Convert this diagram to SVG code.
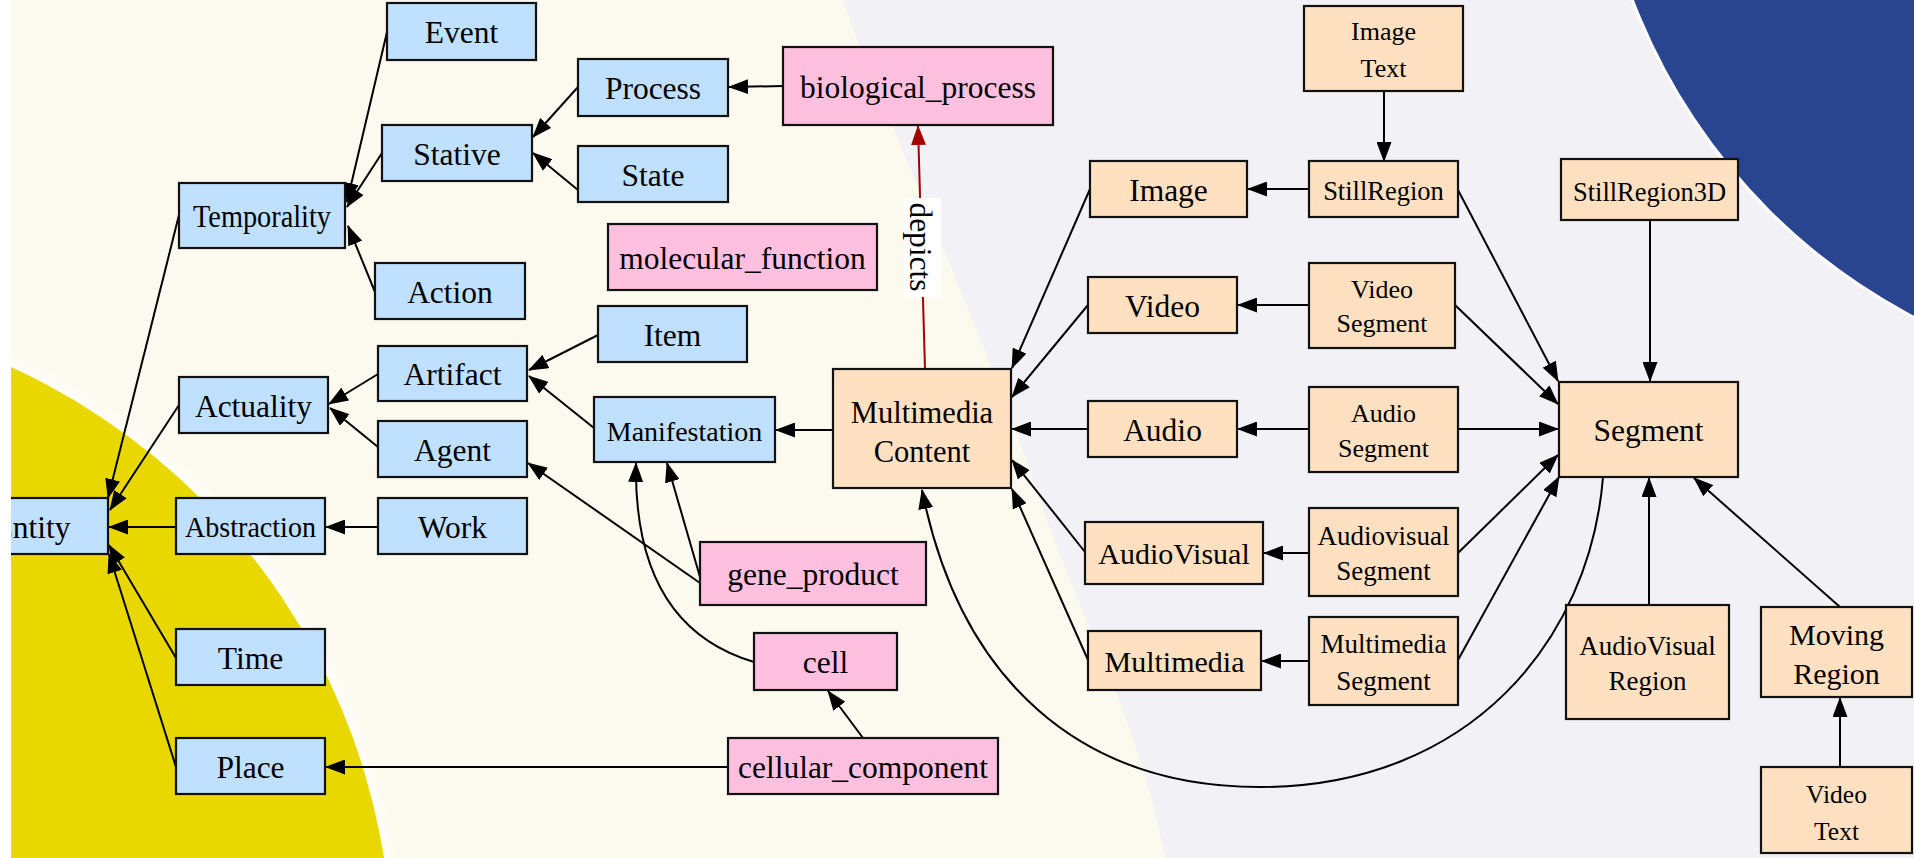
<svg xmlns="http://www.w3.org/2000/svg" width="1914" height="858" viewBox="0 0 1914 858">
<style>
.nb{fill:#C0E0FF;stroke:#111;stroke-width:2.2}
.np{fill:#FFC0E0;stroke:#111;stroke-width:2.2}
.no{fill:#FFE0C0;stroke:#111;stroke-width:2.2}
text{font-family:"Liberation Serif","Times New Roman","DejaVu Serif",serif;fill:#000;text-anchor:middle}
.t{font-size:31.5px}
.s{font-size:26.5px}
.e{fill:none;stroke:#000;stroke-width:2}
.r{fill:none;stroke:#A50000;stroke-width:2}
</style>
<defs>
<marker id="ah" viewBox="0 0 20 15" refX="19" refY="7.5" markerWidth="20" markerHeight="15" markerUnits="userSpaceOnUse" orient="auto"><path d="M0,0 L20,7.5 L0,15 z" fill="#000"/></marker>
<marker id="ahr" viewBox="0 0 20 15" refX="19" refY="7.5" markerWidth="20" markerHeight="15" markerUnits="userSpaceOnUse" orient="auto"><path d="M0,0 L20,7.5 L0,15 z" fill="#A50000"/></marker>
<clipPath id="cp"><rect x="11" y="0" width="1903" height="858"/></clipPath>
<filter id="bl" x="-10%" y="-10%" width="120%" height="120%"><feGaussianBlur stdDeviation="4"/></filter>
</defs>
<rect x="0" y="0" width="1914" height="858" fill="#FFFFFF"/>
<g id="background" clip-path="url(#cp)">
<rect x="0" y="0" width="1914" height="858" fill="#FCFAEE"/>
<path d="M842,0 L1914,0 L1914,858 L1165,858 C1140,720 1080,620 1040,500 C990,350 900,150 842,0 Z" fill="#F1F1F6"/>
<circle cx="-260" cy="960" r="660" fill="#FFFFFF" opacity="0.7" filter="url(#bl)"/>
<circle cx="-260" cy="960" r="652" fill="#E9D700"/>
<circle cx="2191" cy="-212" r="599" fill="#FFFFFF" opacity="0.9"/>
<circle cx="2191" cy="-212" r="596" fill="#29458F"/>
</g>
<g clip-path="url(#cp)">
<g id="connectors">
<line class="e" x1="387" y1="32" x2="347" y2="202" marker-end="url(#ah)"/>
<line class="e" x1="382" y1="153" x2="347" y2="207" marker-end="url(#ah)"/>
<line class="e" x1="375" y1="292" x2="348" y2="226" marker-end="url(#ah)"/>
<line class="e" x1="578" y1="87" x2="533" y2="137" marker-end="url(#ah)"/>
<line class="e" x1="578" y1="190" x2="533" y2="153" marker-end="url(#ah)"/>
<line class="e" x1="783" y1="86" x2="729" y2="87" marker-end="url(#ah)"/>
<line class="e" x1="179" y1="215" x2="108" y2="498" marker-end="url(#ah)"/>
<line class="e" x1="179" y1="405" x2="110" y2="510" marker-end="url(#ah)"/>
<line class="e" x1="176" y1="527" x2="109" y2="527" marker-end="url(#ah)"/>
<line class="e" x1="176" y1="658" x2="109" y2="545" marker-end="url(#ah)"/>
<line class="e" x1="176" y1="767" x2="109" y2="554" marker-end="url(#ah)"/>
<line class="e" x1="598" y1="335" x2="529" y2="370" marker-end="url(#ah)"/>
<line class="e" x1="594" y1="428" x2="529" y2="376" marker-end="url(#ah)"/>
<line class="e" x1="378" y1="374" x2="329" y2="404" marker-end="url(#ah)"/>
<line class="e" x1="378" y1="447" x2="330" y2="408" marker-end="url(#ah)"/>
<line class="e" x1="378" y1="527" x2="326" y2="527" marker-end="url(#ah)"/>
<line class="e" x1="700" y1="583" x2="528" y2="463" marker-end="url(#ah)"/>
<line class="e" x1="700" y1="577" x2="667" y2="463" marker-end="url(#ah)"/>
<path class="e" d="M754,662 C680,640 634,580 636,463" marker-end="url(#ah)"/>
<line class="e" x1="863" y1="738" x2="828" y2="691" marker-end="url(#ah)"/>
<line class="e" x1="728" y1="767" x2="326" y2="767" marker-end="url(#ah)"/>
<line class="e" x1="833" y1="430" x2="776" y2="430" marker-end="url(#ah)"/>
<line class="r" x1="925" y1="369" x2="918" y2="126" marker-end="url(#ahr)"/>
<line class="e" x1="1090" y1="189" x2="1012" y2="368" marker-end="url(#ah)"/>
<line class="e" x1="1088" y1="305" x2="1012" y2="397" marker-end="url(#ah)"/>
<line class="e" x1="1088" y1="429" x2="1012" y2="429" marker-end="url(#ah)"/>
<line class="e" x1="1085" y1="552" x2="1012" y2="460" marker-end="url(#ah)"/>
<line class="e" x1="1088" y1="660" x2="1012" y2="489" marker-end="url(#ah)"/>
<path class="e" d="M1603,477 C1590,640 1470,787 1260,787 C1080,787 960,680 922,490" marker-end="url(#ah)"/>
<line class="e" x1="1309" y1="189" x2="1248" y2="189" marker-end="url(#ah)"/>
<line class="e" x1="1384" y1="91" x2="1384" y2="161" marker-end="url(#ah)"/>
<line class="e" x1="1309" y1="305" x2="1238" y2="305" marker-end="url(#ah)"/>
<line class="e" x1="1309" y1="429" x2="1238" y2="429" marker-end="url(#ah)"/>
<line class="e" x1="1309" y1="553" x2="1264" y2="553" marker-end="url(#ah)"/>
<line class="e" x1="1309" y1="661" x2="1262" y2="661" marker-end="url(#ah)"/>
<line class="e" x1="1458" y1="190" x2="1558" y2="381" marker-end="url(#ah)"/>
<line class="e" x1="1455" y1="305" x2="1558" y2="404" marker-end="url(#ah)"/>
<line class="e" x1="1458" y1="429" x2="1558" y2="429" marker-end="url(#ah)"/>
<line class="e" x1="1458" y1="553" x2="1558" y2="455" marker-end="url(#ah)"/>
<line class="e" x1="1458" y1="660" x2="1559" y2="477" marker-end="url(#ah)"/>
<line class="e" x1="1650" y1="220" x2="1650" y2="381" marker-end="url(#ah)"/>
<line class="e" x1="1649" y1="605" x2="1649" y2="478" marker-end="url(#ah)"/>
<line class="e" x1="1840" y1="607" x2="1694" y2="478" marker-end="url(#ah)"/>
<line class="e" x1="1840" y1="767" x2="1840" y2="698" marker-end="url(#ah)"/>
<rect x="904" y="198" width="37" height="99" fill="#FFFFFF"/>
<text class="t" transform="translate(910,247) rotate(90)" x="0" y="0">depicts</text>
</g>
<g id="n-event"><rect class="nb" x="387" y="3" width="149" height="57"/><text class="t" x="461.5" y="43">Event</text></g>
<g id="n-process"><rect class="nb" x="578" y="59" width="150" height="57"/><text class="t" x="653" y="99">Process</text></g>
<g id="n-stative"><rect class="nb" x="382" y="125" width="150" height="56"/><text class="t" x="457" y="164.5">Stative</text></g>
<g id="n-state"><rect class="nb" x="578" y="146" width="150" height="56"/><text class="t" x="653" y="185.5">State</text></g>
<g id="n-temporality"><rect class="nb" x="179" y="183" width="166" height="65"/><text class="t" x="262" y="227" textLength="138" lengthAdjust="spacingAndGlyphs">Temporality</text></g>
<g id="n-action"><rect class="nb" x="375" y="263" width="150" height="56"/><text class="t" x="450" y="302.5">Action</text></g>
<g id="n-item"><rect class="nb" x="598" y="306" width="149" height="56"/><text class="t" x="672.5" y="345.5">Item</text></g>
<g id="n-artifact"><rect class="nb" x="378" y="346" width="149" height="55"/><text class="t" x="452.5" y="385">Artifact</text></g>
<g id="n-actuality"><rect class="nb" x="179" y="377" width="149" height="56"/><text class="t" x="253.5" y="416.5">Actuality</text></g>
<g id="n-manifestation"><rect class="nb" x="594" y="397" width="181" height="65"/><text x="684.5" y="440.5" style="font-size:28px">Manifestation</text></g>
<g id="n-agent"><rect class="nb" x="378" y="421" width="149" height="56"/><text class="t" x="452.5" y="460.5">Agent</text></g>
<g id="n-entity"><rect class="nb" x="-45" y="498" width="153" height="56"/><text class="t" x="32" y="537.5">Entity</text></g>
<g id="n-abstraction"><rect class="nb" x="176" y="498" width="149" height="56"/><text x="250.5" y="537" style="font-size:30px" textLength="131" lengthAdjust="spacingAndGlyphs">Abstraction</text></g>
<g id="n-work"><rect class="nb" x="378" y="498" width="149" height="56"/><text class="t" x="452.5" y="537.5">Work</text></g>
<g id="n-time"><rect class="nb" x="176" y="629" width="149" height="56"/><text class="t" x="250.5" y="668.5">Time</text></g>
<g id="n-place"><rect class="nb" x="176" y="738" width="149" height="56"/><text class="t" x="250.5" y="777.5">Place</text></g>
<g id="n-biological_process"><rect class="np" x="783" y="47" width="270" height="78"/><text class="t" x="918" y="97.5">biological_process</text></g>
<g id="n-molecular_function"><rect class="np" x="608" y="224" width="269" height="66"/><text class="t" x="742.5" y="268.5">molecular_function</text></g>
<g id="n-gene_product"><rect class="np" x="700" y="542" width="226" height="63"/><text class="t" x="813" y="585">gene_product</text></g>
<g id="n-cell"><rect class="np" x="754" y="633" width="143" height="57"/><text class="t" x="825.5" y="673">cell</text></g>
<g id="n-cellular_component"><rect class="np" x="728" y="738" width="270" height="56"/><text class="t" x="863" y="777.5">cellular_component</text></g>
<g id="n-multimedia_content"><rect class="no" x="833" y="369" width="178" height="119"/><text x="922" y="422.5" style="font-size:30.5px">Multimedia</text><text x="922" y="461.5" style="font-size:30.5px">Content</text></g>
<g id="n-image"><rect class="no" x="1090" y="161" width="157" height="56"/><text class="t" x="1168.5" y="200.5">Image</text></g>
<g id="n-video"><rect class="no" x="1088" y="277" width="149" height="56"/><text class="t" x="1162.5" y="316.5">Video</text></g>
<g id="n-audio"><rect class="no" x="1088" y="401" width="149" height="56"/><text class="t" x="1162.5" y="440.5">Audio</text></g>
<g id="n-audiovisual"><rect class="no" x="1085" y="522" width="178" height="62"/><text x="1174" y="564" style="font-size:30px">AudioVisual</text></g>
<g id="n-multimedia"><rect class="no" x="1088" y="631" width="173" height="59"/><text x="1174.5" y="672" style="font-size:30px">Multimedia</text></g>
<g id="n-image_text"><rect class="no" x="1304" y="6" width="159" height="85"/><text x="1383.5" y="40" style="font-size:26px">Image</text><text x="1383.5" y="77" style="font-size:26px">Text</text></g>
<g id="n-stillregion"><rect class="no" x="1309" y="161" width="149" height="56"/><text class="s" x="1383.5" y="200">StillRegion</text></g>
<g id="n-stillregion3d"><rect class="no" x="1561" y="159" width="177" height="61"/><text class="s" x="1649.5" y="200.5">StillRegion3D</text></g>
<g id="n-video_segment"><rect class="no" x="1309" y="263" width="146" height="85"/><text x="1382" y="298" style="font-size:26px">Video</text><text x="1382" y="332" style="font-size:26px">Segment</text></g>
<g id="n-audio_segment"><rect class="no" x="1309" y="387" width="149" height="85"/><text x="1383.5" y="422" style="font-size:26px">Audio</text><text x="1383.5" y="457" style="font-size:26px">Segment</text></g>
<g id="n-segment"><rect class="no" x="1559" y="382" width="179" height="95"/><text class="t" x="1648.5" y="441">Segment</text></g>
<g id="n-audiovisual_segment"><rect class="no" x="1309" y="508" width="149" height="88"/><text x="1383.5" y="545" style="font-size:27px">Audiovisual</text><text x="1383.5" y="580" style="font-size:27px">Segment</text></g>
<g id="n-multimedia_segment"><rect class="no" x="1309" y="617" width="149" height="88"/><text x="1383.5" y="653" style="font-size:27px">Multimedia</text><text x="1383.5" y="690" style="font-size:27px">Segment</text></g>
<g id="n-audiovisual_region"><rect class="no" x="1566" y="605" width="163" height="114"/><text x="1647.5" y="655" style="font-size:27px">AudioVisual</text><text x="1647.5" y="690" style="font-size:27px">Region</text></g>
<g id="n-moving_region"><rect class="no" x="1761" y="607" width="151" height="90"/><text x="1836.5" y="645" style="font-size:30px">Moving</text><text x="1836.5" y="684" style="font-size:30px">Region</text></g>
<g id="n-video_text"><rect class="no" x="1761" y="767" width="151" height="86"/><text x="1836.5" y="803" style="font-size:25.5px">Video</text><text x="1836.5" y="840" style="font-size:25.5px">Text</text></g>
</g>
</svg>
